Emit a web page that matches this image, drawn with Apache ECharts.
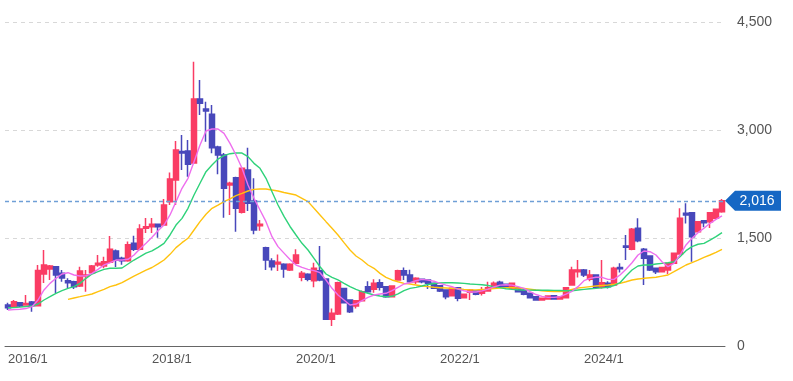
<!DOCTYPE html>
<html><head><meta charset="utf-8">
<script src="https://cdn.jsdelivr.net/npm/echarts@6/dist/echarts.min.js"></script>
<style>html,body{margin:0;padding:0;background:#fff}#c{width:793px;height:381px}</style>
</head><body><div id="c"></div>
<script>
// categories: monthly 2016/1 .. 2025/12
var categories = [];
for (var y = 2016; y <= 2025; y++) { for (var m = 1; m <= 12; m++) categories.push(y + '/' + m); }

// [open, close, low, high]
var ohlc = [
[570,530,500,600],[545,615,530,640],[600,555,540,610],[570,590,560,708],[610,560,476,625],
[560,1050,555,1125],[1000,1125,875,1333],[1070,1110,917,1125],[1100,985,735,1110],[1010,945,893,1055],
[907,880,801,940],[893,824,790,905],[833,1042,820,1100],[972,986,755,1055],[1018,1110,1000,1125],
[1125,1148,1100,1264],[1110,1170,1080,1240],[1162,1343,1150,1528],[1320,1194,1097,1340],[1218,1185,1130,1240],
[1185,1407,1170,1450],[1426,1343,1320,1530],[1343,1625,1330,1690],[1635,1657,1570,1778],[1657,1690,1570,1778],
[1690,1657,1505,1700],[1680,1958,1670,2042],[2005,2320,1958,2411],[2305,2722,1958,2847],[2700,2680,2444,2930],
[2708,2523,2352,2861],[2540,3430,2530,3949],[3430,3370,3208,3695],[3292,3264,2838,3393],[3218,2754,2676,3347],
[2764,2653,2384,2780],[2653,2190,1782,2680],[2236,2260,1820,2280],[2338,1912,1588,2350],[1857,2468,1840,2480],
[2445,1982,1875,2754],[2014,1611,1551,2329],[1670,1690,1600,1750],[1366,1194,1055,1380],[1180,1101,1050,1220],
[1140,1162,1040,1270],[1134,1069,948,1150],[1055,1134,1040,1150],[1148,1264,1140,1343],[954,1009,900,1040],
[996,926,900,1010],[907,1079,815,1157],[1046,917,900,1389],[930,371,361,940],[371,454,278,520],
[444,879,430,893],[800,601,590,810],[639,476,460,650],[555,629,520,640],[629,755,620,770],
[824,755,740,900],[787,870,740,926],[879,815,770,926],[824,685,670,835],[685,833,680,840],
[917,1046,910,1060],[1046,986,917,1090],[986,893,880,1060],[893,940,860,955],[926,893,870,935],
[917,870,790,925],[870,801,790,880],[838,764,750,845],[778,685,650,785],[699,801,690,810],
[810,662,620,815],[671,718,660,725],[745,778,639,790],[764,718,705,770],[732,778,700,820],
[764,810,755,893],[801,870,790,895],[884,824,815,905],[856,824,815,865],[801,870,795,880],
[810,755,745,815],[778,718,705,785],[732,671,660,740],[685,639,630,690],[639,662,630,670],
[653,694,645,700],[699,653,645,705],[653,685,645,690],[671,810,665,815],[847,1055,840,1100],
[1032,1055,950,1194],[1055,986,960,1070],[926,986,900,1055],[986,815,800,995],[815,879,800,1194],
[870,824,800,900],[847,1079,840,1100],[1092,1074,1020,1150],[1390,1370,1194,1542],[1343,1620,1330,1640],
[1635,1463,1440,1773],[1343,1218,847,1360],[1250,1055,1040,1260],[1079,1032,1000,1090],[1032,1092,1020,1100],
[1055,1148,1000,1160],[1148,1287,1140,1300],[1278,1773,1270,1912],[1843,1820,1700,1982],[1852,1518,1171,1860],
[1588,1727,1580,1735],[1740,1713,1650,1750],[1727,1852,1640,1860],[1773,1898,1760,1910],[1866,2016,1850,2040]
];

var maShort = [500,505,510,520,546,639,778,870,940,1000,1018,986,972,976,1009,1065,1125,1157,1194,1194,
1204,1264,1350,1426,1510,1600,1680,1820,2005,2190,2329,2560,2792,2986,3014,3014,2954,2815,2653,2468,
2236,2051,1889,1727,1518,1380,1290,1200,1125,1093,1065,1046,1018,917,801,708,639,569,583,629,
676,708,722,732,768,815,861,879,907,926,915,900,870,845,824,790,768,750,750,765,
790,820,845,850,845,825,800,755,715,690,676,675,685,720,760,824,907,940,954,954,
926,926,986,1065,1157,1264,1320,1310,1264,1171,1101,1148,1264,1403,1496,1574,1635,1704,1759,1806];

var maMid = [532,535,540,548,555,583,639,685,732,768,801,824,870,940,1000,1032,1065,1079,1079,1083,
1139,1194,1240,1290,1320,1370,1426,1542,1680,1773,1912,2097,2260,2421,2514,2597,2643,2671,2680,2680,
2630,2537,2468,2329,2143,1958,1800,1660,1542,1426,1333,1218,1101,1000,954,917,870,824,787,755,
732,708,694,685,690,725,770,800,815,833,855,868,875,878,878,875,870,862,856,850,
840,825,810,795,787,782,778,776,775,775,775,772,770,768,768,778,787,795,801,808,
815,840,879,972,1055,1111,1125,1125,1139,1148,1157,1171,1241,1324,1380,1413,1426,1472,1518,1574];

var maLong = [null,null,null,null,null,null,null,null,null,null,
648,667,685,704,722,755,787,824,847,879,
926,972,1012,1055,1090,1140,1194,1273,1366,1435,1496,1611,1727,1829,1912,1958,2005,2042,2088,2120,
2153,2176,2181,2181,2167,2153,2132,2115,2097,2051,2005,1912,1820,1727,1635,1542,1435,1333,1250,1194,
1125,1079,1009,954,917,893,870,861,847,833,824,815,810,805,800,795,785,780,780,785,
790,798,805,808,808,805,800,790,778,768,760,757,757,765,785,805,815,825,833,840,
847,858,870,893,917,930,940,947,954,970,986,1032,1079,1125,1157,1194,1232,1264,1301,1343];

var lastPrice = 2016;
var yTicks = [0, 1500, 3000, 4500];

var chart = echarts.init(document.getElementById('c'), null, {renderer: 'canvas'});
chart.setOption({
  animation: false,
  grid: {left: 5, right: 68, top: 22, bottom: 35},
  xAxis: {
    type: 'category', data: categories, boundaryGap: true,
    axisLine: {lineStyle: {color: '#666', width: 1}},
    axisTick: {show: false},
    axisLabel: {interval: function (i) { return i % 24 === 0; }, align: 'left', margin: 7,
      color: '#555', fontSize: 13, fontFamily: 'Liberation Sans, Arial, sans-serif'},
    splitLine: {show: false}
  },
  yAxis: {
    type: 'value', position: 'right', min: yTicks[0], max: yTicks[yTicks.length - 1], interval: 1500,
    axisLine: {show: false}, axisTick: {show: false},
    axisLabel: {margin: 12, color: '#555', fontSize: 14, fontFamily: 'Liberation Sans, Arial, sans-serif',
      formatter: function (v) { return v.toLocaleString('en-US'); }},
    splitLine: {lineStyle: {color: '#d8d8d8', type: [4, 4], width: 1}}
  },
  series: [
    {
      type: 'candlestick', data: ohlc, barWidth: 5,
      itemStyle: {color: '#fa3c64', color0: '#4848bb', borderColor: '#fa3c64', borderColor0: '#4848bb',
        borderColorDoji: '#fa3c64', borderWidth: 1.5},
      markLine: {
        silent: true, symbol: ['none', 'none'], label: {show: false},
        lineStyle: {color: '#6f9fd6', type: [4, 3], width: 1.3},
        data: [{yAxis: lastPrice}]
      },
      markPoint: {
        silent: true,
        data: [{coord: [categories.length - 1, lastPrice], value: lastPrice}],
        symbol: 'path://M0,10 L10,0 L56,0 L56,20 L10,20 Z',
        symbolSize: [56, 20], symbolOffset: [31, 0],
        itemStyle: {color: '#1667c4'},
        label: {show: true, position: 'inside', offset: [4, 0], color: '#fff', fontSize: 14,
          fontFamily: 'Liberation Sans, Arial, sans-serif',
          formatter: function (p) { return p.value.toLocaleString('en-US'); }}
      },
      z: 2
    },
    {type: 'line', data: maLong, symbol: 'none', smooth: false, lineStyle: {color: '#ffc20e', width: 1.4}, z: 3},
    {type: 'line', data: maMid, symbol: 'none', smooth: false, lineStyle: {color: '#2fd27a', width: 1.4}, z: 3},
    {type: 'line', data: maShort, symbol: 'none', smooth: false, lineStyle: {color: '#ee6fee', width: 1.4}, z: 3}
  ]
});
</script></body></html>
